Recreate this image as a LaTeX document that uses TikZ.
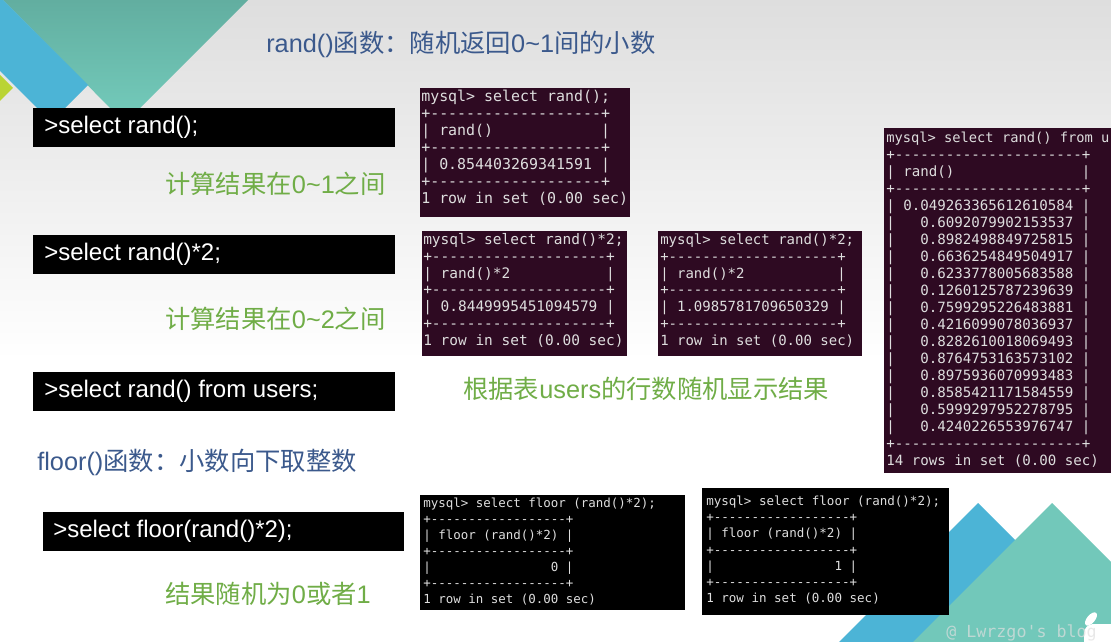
\documentclass[tikz,border=0pt]{standalone}
\usepackage{fontspec}
\setmainfont{Liberation Sans}
\newfontfamily\cjk{Noto Sans CJK SC}
\newfontfamily\mono[Ligatures=TeXOff]{DejaVu Sans Mono}
\definecolor{titleblue}{RGB}{59,89,140}
\definecolor{sgreen}{RGB}{112,173,71}
\definecolor{termbg}{RGB}{46,10,34}
\definecolor{termfg}{RGB}{222,222,222}
\definecolor{tealA}{RGB}{98,174,160}
\definecolor{tealB}{RGB}{116,204,188}
\definecolor{tealM}{RGB}{114,200,186}
\definecolor{sblue}{RGB}{76,180,214}
\definecolor{limeg}{RGB}{186,212,52}
\definecolor{bggray}{RGB}{222,222,222}
\begin{document}
\begin{tikzpicture}[x=0.75pt,y=-0.75pt,
  panel/.style n args={3}{anchor=north west, inner sep=0pt, outer sep=0pt, fill=#1, minimum width=#2*0.75pt, minimum height=#3*0.75pt},
  cmdtext/.style={anchor=west, inner sep=0pt, text=white, font=\fontsize{18}{21}\selectfont},
  note/.style={anchor=west, inner sep=0pt, text=sgreen, font=\fontsize{19}{22}\selectfont},
  heading/.style={note, text=titleblue},
  termline/.style={anchor=mid west, inner sep=0pt, text=termfg},
]
\useasboundingbox (0,0) rectangle (1111,642);
\clip (0,0) rectangle (1111,642);
% background
\shade[top color=bggray, bottom color=white] (0,0) rectangle (1111,360);
\fill[white] (0,359) rectangle (1111,642);
% top-left decoration
\shade[top color=tealA, bottom color=tealB] (3,0) -- (248,0) -- (125,123) -- cycle;
\fill[sblue] (0,0) -- (3,0) -- (88,85) -- (51,122) -- (0,71) -- cycle;
\fill[limeg] (0,75) -- (13,88) -- (0,101) -- cycle;
% bottom-right decoration
\fill[sblue] (978,503) -- (839,642) -- (1117,642) -- cycle;
\fill[tealM] (1052,503) -- (913,642) -- (1111,642) -- (1111,562) -- cycle;
\fill[white, rounded corners=7pt] (1084,624) rectangle (1130,660);
\fill[white, rotate around={-40:(1091,619)}] (1091,619) ellipse (4 and 8);

% title
\node[heading] (title) at (266,44) {rand(){\cjk 函数：随机返回}0\textasciitilde1{\cjk 间的小数}};

% command boxes
\node[panel={black}{362}{39}] (c1) at (33,108) {};
\node[cmdtext] (c1t) at (44,127.5) {>select rand();};
\node[panel={black}{362}{39}] (c2) at (33,235) {};
\node[cmdtext] (c2t) at (44,254.5) {>select rand()*2;};
\node[panel={black}{362}{39}] (c3) at (33,372) {};
\node[cmdtext] (c3t) at (44,391.5) {>select rand() from users;};
\node[panel={black}{361}{39}] (c4) at (43,512) {};
\node[cmdtext] (c4t) at (53,531.5) {>select floor(rand()*2);};

% notes
\node[note] (n1) at (165,184) {{\cjk 计算结果在}0\textasciitilde1{\cjk 之间}};
\node[note] (n2) at (165,319) {{\cjk 计算结果在}0\textasciitilde2{\cjk 之间}};
\node[note] (n3) at (463,389) {{\cjk 根据表}users{\cjk 的行数随机显示结果}};
\node[heading] (h2) at (37,462) {floor(){\cjk 函数：小数向下取整数}};
\node[note] (n4) at (165,594) {{\cjk 结果随机为}0{\cjk 或者}1};

% terminal 1
\node[panel={termbg}{210}{129}] (t1) at (420,88) {};
\foreach \s [count=\i] in {
 {mysql> select rand();},
 {+-------------------+},
 {|~rand()~~~~~~~~~~~~|},
 {+-------------------+},
 {|~0.854403269341591~|},
 {+-------------------+},
 {1 row in set (0.00 sec)}}
 \node[termline, font=\mono\fontsize{11.2}{13}\selectfont] (t1l\i) at ({421},{98+(\i-1)*17}) {\s};

% terminal 2
\node[panel={termbg}{205}{125}] (t2) at (422,231) {};
\foreach \s [count=\i] in {
 {mysql> select rand()*2;},
 {+--------------------+},
 {|~rand()*2~~~~~~~~~~~|},
 {+--------------------+},
 {|~0.8449995451094579~|},
 {+--------------------+},
 {1 row in set (0.00 sec)}}
 \node[termline, font=\mono\fontsize{10.85}{13}\selectfont] (t2l\i) at ({423},{241+(\i-1)*16.8}) {\s};

% terminal 3
\node[panel={termbg}{204}{125}] (t3) at (658,231) {};
\foreach \s [count=\i] in {
 {mysql> select rand()*2;},
 {+--------------------+},
 {|~rand()*2~~~~~~~~~~~|},
 {+--------------------+},
 {|~1.0985781709650329~|},
 {+--------------------+},
 {1 row in set (0.00 sec)}}
 \node[termline, font=\mono\fontsize{10.5}{13}\selectfont] (t3l\i) at ({660},{241+(\i-1)*16.8}) {\s};

% terminal 4
\node[panel={termbg}{230}{345}] (t4) at (884,128) {};
\node[termline, font=\mono\fontsize{10.3}{13}\selectfont] (t4l0) at (886,139) {mysql> select rand() from u};
\foreach \s [count=\i] in {
 {+----------------------+},
 {|~rand()~~~~~~~~~~~~~~~|},
 {+----------------------+},
 {|~0.049263365612610584~|},
 {|~~~0.6092079902153537~|},
 {|~~~0.8982498849725815~|},
 {|~~~0.6636254849504917~|},
 {|~~~0.6233778005683588~|},
 {|~~~0.1260125787239639~|},
 {|~~~0.7599295226483881~|},
 {|~~~0.4216099078036937~|},
 {|~~~0.8282610018069493~|},
 {|~~~0.8764753163573102~|},
 {|~~~0.8975936070993483~|},
 {|~~~0.8585421171584559~|},
 {|~~~0.5999297952278795~|},
 {|~~~0.4240226553976747~|},
 {+----------------------+},
 {14 rows in set (0.00 sec)}}
 \node[termline, font=\mono\fontsize{10.6}{13}\selectfont] (t4l\i) at ({886},{139+\i*17}) {\s};

% terminal 5
\node[panel={black}{265}{115}] (t5) at (420,495) {};
\foreach \s [count=\i] in {
 {mysql> select floor (rand()*2);},
 {+------------------+},
 {|~floor (rand()*2)~|},
 {+------------------+},
 {|~~~~~~~~~~~~~~~~0~|},
 {+------------------+},
 {1 row in set (0.00 sec)}}
 \node[termline, font=\mono\fontsize{9.35}{12}\selectfont] (t5l\i) at ({423},{504+(\i-1)*16}) {\s};

% terminal 6
\node[panel={black}{247}{127}] (t6) at (702,488) {};
\foreach \s [count=\i] in {
 {mysql> select floor (rand()*2);},
 {+------------------+},
 {|~floor (rand()*2)~|},
 {+------------------+},
 {|~~~~~~~~~~~~~~~~1~|},
 {+------------------+},
 {1 row in set (0.00 sec)}}
 \node[termline, font=\mono\fontsize{9.4}{12}\selectfont] (t6l\i) at ({706},{502+(\i-1)*16.2}) {\s};

% watermark
\node[anchor=west, inner sep=0pt, text=gray!25, opacity=0.7, font=\mono\fontsize{12.5}{15}\selectfont] (wm) at (946,633) {@ Lwrzgo's blog};
\end{tikzpicture}
\end{document}
